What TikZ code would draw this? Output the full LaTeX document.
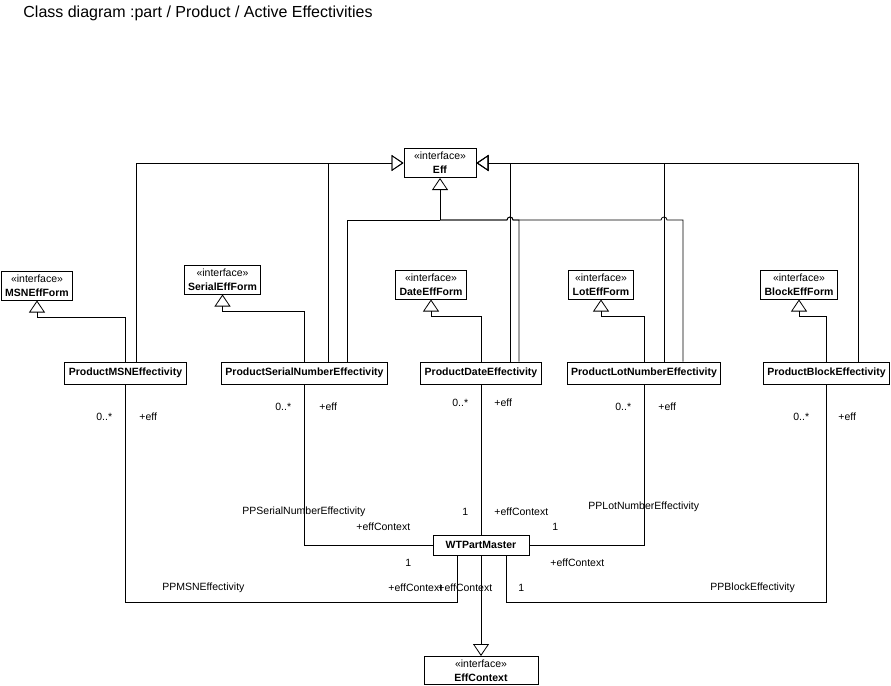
\documentclass[tikz,border=0pt]{standalone}
\usepackage{fontspec}
\setmainfont{Liberation Sans}
\usetikzlibrary{arrows.meta,calc}
\begin{document}
\begin{tikzpicture}[x=1pt, y=-1pt, line width=0.8pt,
cls/.style={draw, fill=white, line width=1pt, font=\fontsize{10.5}{14}\selectfont\bfseries, minimum height=22pt, inner xsep=4pt, inner ysep=0pt},
intf/.style={draw, fill=white, line width=1pt, align=center, font=\fontsize{10.5}{14}\selectfont, minimum height=29pt, inner xsep=4pt, inner ysep=1pt},
lbl/.style={anchor=west, inner sep=0pt, font=\fontsize{10.5}{12}\selectfont},
gen/.style={-{Triangle[open, length=12pt, width=16pt]}}]
\useasboundingbox (0,0) rectangle (891,685);
\node[anchor=west, inner sep=0pt, font=\fontsize{16}{18}\selectfont] (title) at (23,13) {Class diagram :part / Product / Active Effectivities};
\node[intf, minimum width=72pt] (eff) at (440,163) {«interface»\\\textbf{Eff}};
\node[intf] (msnform) at (37,285.5) {«interface»\\\textbf{MSNEffForm}};
\node[intf] (serialform) at (222.5,279.5) {«interface»\\\textbf{SerialEffForm}};
\node[intf] (dateform) at (431,284.5) {«interface»\\\textbf{DateEffForm}};
\node[intf] (lotform) at (601,284.5) {«interface»\\\textbf{LotEffForm}};
\node[intf] (blockform) at (799,284.5) {«interface»\\\textbf{BlockEffForm}};
\node[cls] (msn) at (125.5,373) {ProductMSNEffectivity};
\node[cls] (serial) at (304.5,373) {ProductSerialNumberEffectivity};
\node[cls] (date) at (481,373) {ProductDateEffectivity};
\node[cls] (lot) at (644,373) {ProductLotNumberEffectivity};
\node[cls] (block) at (826.5,373) {ProductBlockEffectivity};
\node[cls, minimum height=20pt, minimum width=96pt] (master) at (481,545) {WTPartMaster};
\node[intf, minimum width=114pt, minimum height=28pt] (context) at (481,670.5) {«interface»\\\textbf{EffContext}};
\coordinate (join) at (440,220);
\draw[gen] (msn.north) -- ++(0,-44) -| (msnform.south);
\draw[gen] (serial.north) -- ++(0,-50) -| (serialform.south);
\draw[gen] (date.north) -- ++(0,-45) -| (dateform.south);
\draw[gen] (lot.north) -- ++(0,-45) -| (lotform.south);
\draw[gen] (block.north) -- ++(0,-45) -| (blockform.south);
\draw[gen] ($(msn.north)+(10.5,0)$) |- (eff.west);
\draw[gen] ($(serial.north)+(23.5,0)$) |- (eff.west);
\draw[gen] ($(date.north)+(29,0)$) |- (eff.east);
\draw[gen] ($(lot.north)+(20,0)$) |- (eff.east);
\draw[gen] ($(block.north)+(31.5,0)$) |- (eff.east);
\draw ($(serial.north)+(42.5,0)$) |- (join);
\draw ($(date.north)+(38,0)$) |- (513,220) arc[start angle=0, end angle=180, radius=3pt] -- (join);
\draw ($(lot.north)+(39,0)$) |- (667,220) arc[start angle=0, end angle=180, radius=3pt] -- (513,220) arc[start angle=0, end angle=180, radius=3pt] -- (join);
\draw[gen] (join) -- (eff.south);
\draw (msn.south) |- ($(master.south)+(-24,47)$) -- ($(master.south)+(-24,0)$);
\draw (serial.south) |- (master.west);
\draw (date.south) -- (master.north);
\draw (lot.south) |- (master.east);
\draw (block.south) |- ($(master.south)+(25,47)$) -- ($(master.south)+(25,0)$);
\draw[gen] (master.south) -- (context.north);
\node[lbl] (msnmult) at (96,417) {0..*};
\node[lbl] (msnrole) at (139,417) {+eff};
\node[lbl] (serialmult) at (275,407) {0..*};
\node[lbl] (serialrole) at (319,407) {+eff};
\node[lbl] (datemult) at (452,403) {0..*};
\node[lbl] (daterole) at (494,403) {+eff};
\node[lbl] (lotmult) at (615,407) {0..*};
\node[lbl] (lotrole) at (658,407) {+eff};
\node[lbl] (blockmult) at (793,417) {0..*};
\node[lbl] (blockrole) at (838,417) {+eff};
\node[lbl] (serialassoc) at (242,512) {PPSerialNumberEffectivity};
\node[lbl] (serialctx) at (356,527) {+effContext};
\node[lbl] (dateone) at (462,512) {1};
\node[lbl] (datectx) at (494,512) {+effContext};
\node[lbl] (lotone) at (552,527) {1};
\node[lbl] (lotassoc) at (588,507) {PPLotNumberEffectivity};
\node[lbl] (lotctx) at (550,563) {+effContext};
\node[lbl] (serialone) at (405,563) {1};
\node[lbl] (msnassoc) at (162,588) {PPMSNEffectivity};
\node[lbl] (msnctx) at (388,588) {+effContext};
\node[lbl] (blockctx) at (438,588) {+effContext};
\node[lbl] (blockone) at (518,588) {1};
\node[lbl] (blockassoc) at (710,588) {PPBlockEffectivity};
\end{tikzpicture}
\end{document}
